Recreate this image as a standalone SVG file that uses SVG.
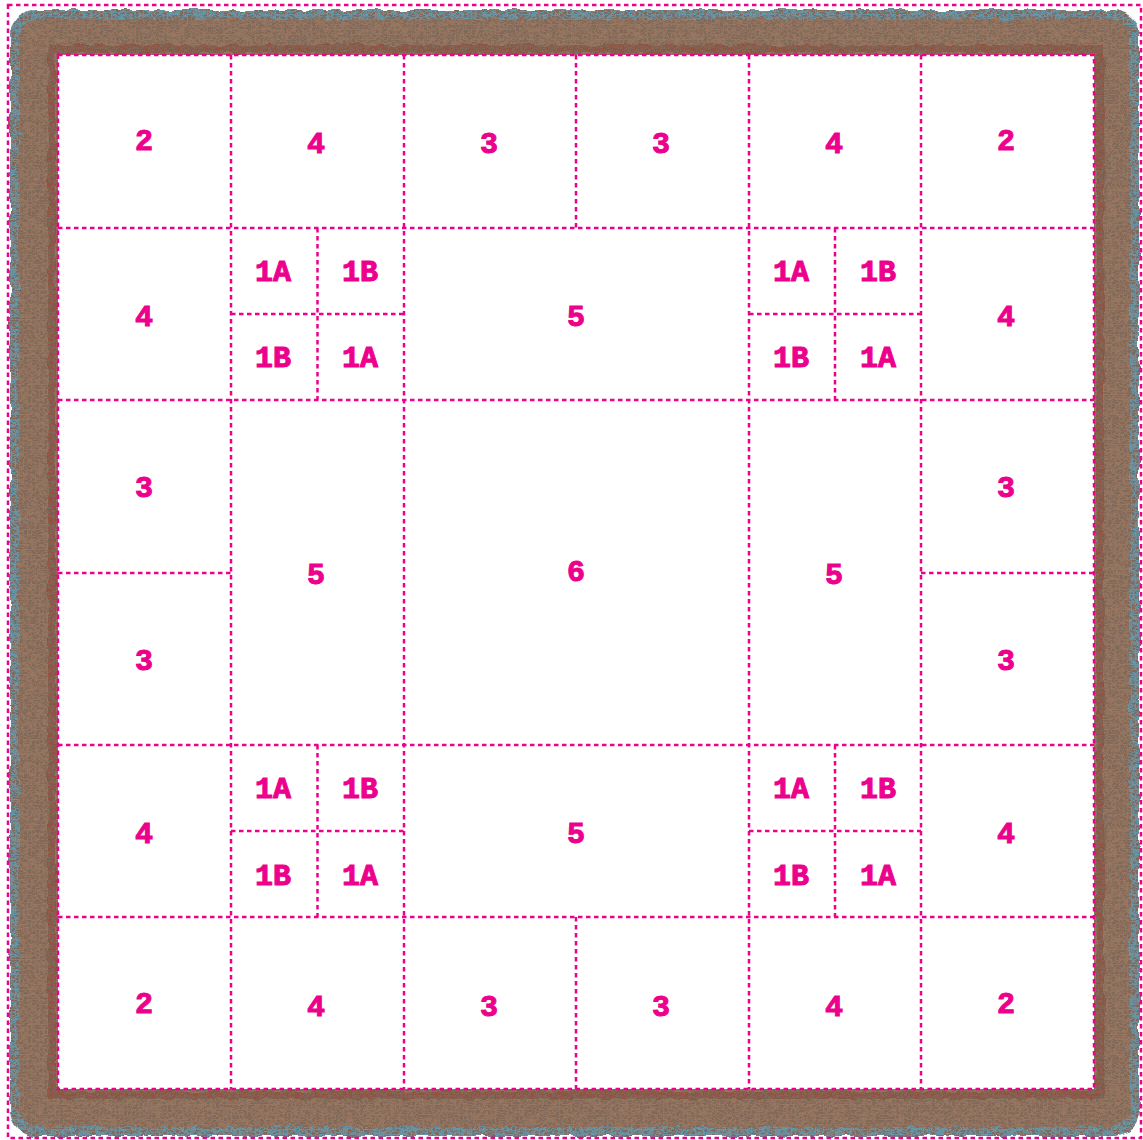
<svg xmlns="http://www.w3.org/2000/svg" width="1143" height="1140" viewBox="0 0 1143 1140">
<style>
.d{fill:none;stroke:#ec008c;stroke-width:2.5;stroke-dasharray:4.5 3.5}
.t{font-family:"Liberation Mono","Courier New",monospace;font-weight:bold;font-size:30px;fill:#ec008c;stroke:#ec008c;stroke-width:1;text-anchor:middle}
</style>
<defs>
<filter id="knit" x="-3%" y="-3%" width="106%" height="106%">
<feTurbulence type="fractalNoise" baseFrequency="0.08 0.06" numOctaves="2" seed="4" result="n"/>
<feDisplacementMap in="SourceGraphic" in2="n" scale="7" xChannelSelector="R" yChannelSelector="G" result="d"/>
<feTurbulence type="turbulence" baseFrequency="0.25 0.4" numOctaves="2" seed="7" result="n2"/>
<feColorMatrix in="n2" type="matrix" values="0 0 0 0 0.22  0 0 0 0 0.14  0 0 0 0 0.1  3 0 0 0 -0.2" result="dots"/>
<feComposite in="dots" in2="d" operator="in" result="dots2"/>
<feMerge><feMergeNode in="d"/><feMergeNode in="dots2"/></feMerge>
</filter>
</defs>
<rect width="1143" height="1140" fill="#fff"/>
<g id="frame" filter="url(#knit)">
<rect x="10" y="10" width="1129" height="1126" rx="26" fill="#5e9cb0"/>
<rect x="19" y="19" width="1111" height="1108" rx="20" fill="#9a7862"/>
<rect x="52" y="49" width="1048" height="1046" fill="none" stroke="#8c3226" stroke-width="8" opacity="0.55"/>
</g>
<rect id="field" x="58" y="55" width="1036" height="1034" fill="#fff"/>
<g id="connectors">
<rect class="d" x="8" y="5" width="1133" height="1133"/>
<rect class="d" x="58" y="55" width="1036" height="1034"/>
<path class="d" d="M231 55V1089M404 55V1089M749 55V1089M921 55V1089M576 55V228M576 917V1089M58 228H1094M58 400H1094M58 745H1094M58 917H1094M58 573H231M921 573H1094M317.5 228V400M231 314H404M835 228V400M749 314H921M317.5 745V917M231 831H404M835 745V917M749 831H921"/>
</g>
<g id="n-r0">
<text class="t" x="144" y="150">2</text>
<text class="t" x="316" y="153">4</text>
<text class="t" x="489" y="153">3</text>
<text class="t" x="661" y="153">3</text>
<text class="t" x="834" y="153">4</text>
<text class="t" x="1006" y="150">2</text>
</g>
<g id="n-r1">
<text class="t" x="144" y="326">4</text>
<text class="t" x="273" y="281">1A</text>
<text class="t" x="360" y="281">1B</text>
<text class="t" x="273" y="367">1B</text>
<text class="t" x="360" y="367">1A</text>
<text class="t" x="576" y="326">5</text>
<text class="t" x="791" y="281">1A</text>
<text class="t" x="878" y="281">1B</text>
<text class="t" x="791" y="367">1B</text>
<text class="t" x="878" y="367">1A</text>
<text class="t" x="1006" y="326">4</text>
</g>
<g id="n-mid">
<text class="t" x="144" y="497">3</text>
<text class="t" x="144" y="670">3</text>
<text class="t" x="316" y="584">5</text>
<text class="t" x="576" y="581">6</text>
<text class="t" x="834" y="584">5</text>
<text class="t" x="1006" y="497">3</text>
<text class="t" x="1006" y="670">3</text>
</g>
<g id="n-r4">
<text class="t" x="144" y="843">4</text>
<text class="t" x="273" y="798">1A</text>
<text class="t" x="360" y="798">1B</text>
<text class="t" x="273" y="885">1B</text>
<text class="t" x="360" y="885">1A</text>
<text class="t" x="576" y="843">5</text>
<text class="t" x="791" y="798">1A</text>
<text class="t" x="878" y="798">1B</text>
<text class="t" x="791" y="885">1B</text>
<text class="t" x="878" y="885">1A</text>
<text class="t" x="1006" y="843">4</text>
</g>
<g id="n-r5">
<text class="t" x="144" y="1013">2</text>
<text class="t" x="316" y="1016">4</text>
<text class="t" x="489" y="1016">3</text>
<text class="t" x="661" y="1016">3</text>
<text class="t" x="834" y="1016">4</text>
<text class="t" x="1006" y="1013">2</text>
</g>
</svg>
